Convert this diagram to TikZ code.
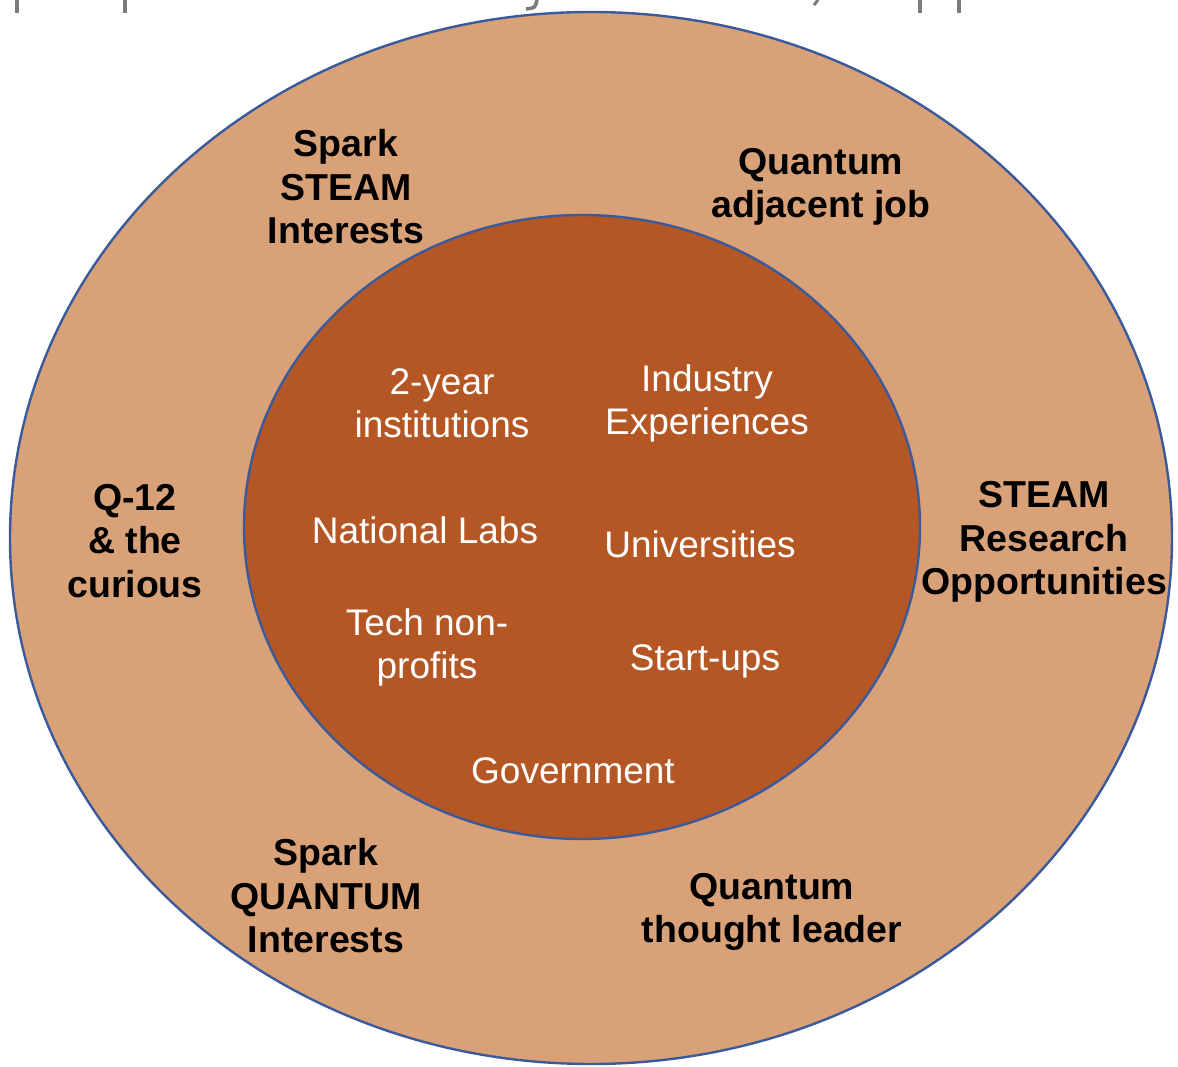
\documentclass[tikz,border=0pt]{standalone}
\usepackage{fontspec}
\setmainfont{Liberation Sans}
\begin{document}
\definecolor{outerfill}{HTML}{D9A177}
\definecolor{innerfill}{HTML}{B45725}
\definecolor{ringline}{HTML}{3A5A9C}
\definecolor{greymark}{HTML}{7A7A7A}
\begin{tikzpicture}[x=1pt,y=1pt,
  ring/.style={draw=ringline,line width=2.4pt},
  outerlabel/.style={align=center,text=black,font=\fontsize{37.5}{43.5}\selectfont\bfseries,inner sep=0pt},
  innerlabel/.style={align=center,text=white,font=\fontsize{37}{43}\selectfont,inner sep=0pt},
  stub/.style={draw=greymark,line width=4pt}]
\useasboundingbox (0,0) rectangle (1178,1066);
% rings
\path[ring,fill=outerfill] (591,528) ellipse [x radius=581, y radius=526];
\path[ring,fill=innerfill] (582,539) ellipse [x radius=338, y radius=312];
% descender fragments of a cropped heading line
\draw[stub] (17,1066) -- (17,1053);
\draw[stub] (125,1066) -- (125,1053);
\draw[stub,line width=3.5pt] (537,1066) .. controls (535,1058) .. (526,1057);
\draw[stub,line width=3pt] (818,1066) -- (814,1061);
\draw[stub] (920,1066) -- (920,1053);
\draw[stub] (959,1066) -- (959,1053);
% outer ring labels
\node[outerlabel] (steam) at (346,879) {Spark\\STEAM\\Interests};
\node[outerlabel] (adjacent) at (821,879) {Quantum\\adjacent job};
\node[outerlabel] (q12) at (135,525) {Q-12\\\& the\\curious};
\node[outerlabel] (research) at (1044,524) {STEAM\\Research\\Opportunities};
\node[outerlabel] (quantum) at (326,170) {Spark\\QUANTUM\\Interests};
\node[outerlabel] (leader) at (772,154) {Quantum\\thought leader};
% inner circle labels
\node[innerlabel] (twoyear) at (442,663) {2-year\\institutions};
\node[innerlabel] (industry) at (707,663) {Industry\\Experiences};
\node[innerlabel] (labs) at (425,536) {National Labs};
\node[innerlabel] (univ) at (700,522) {Universities};
\node[innerlabel] (nonprofit) at (427,419) {Tech non-\\profits};
\node[innerlabel] (startups) at (705,405) {Start-ups};
\node[innerlabel] (gov) at (573,295) {Government};
\end{tikzpicture}
\end{document}
